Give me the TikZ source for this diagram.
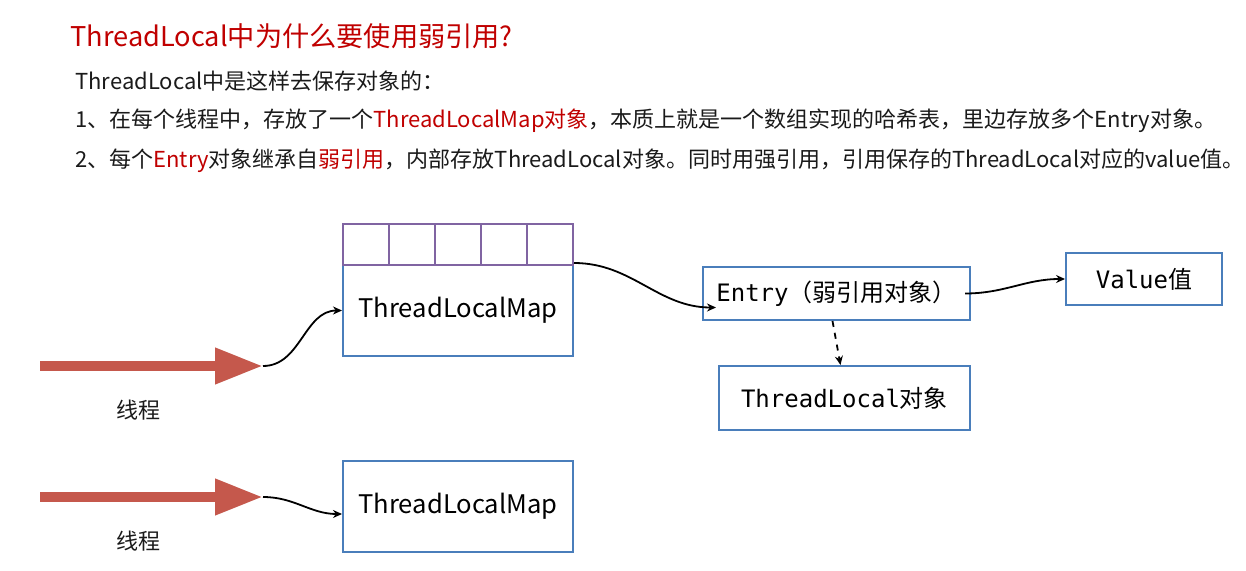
\documentclass[tikz,border=0pt]{standalone}
\usepackage{fontspec}
\setmainfont{Noto Sans CJK SC}
\setmonofont{DejaVu Sans Mono}
\usetikzlibrary{arrows.meta}

\definecolor{titlered}{HTML}{C00000}
\definecolor{textgray}{HTML}{1A1A1A}
\definecolor{boxblue}{HTML}{4A7EBB}
\definecolor{cellpurple}{HTML}{8064A2}
\definecolor{threadred}{HTML}{C5584C}

\tikzset{
    body/.style={anchor=west, inner sep=0pt, text=textgray, font=\fontsize{11}{13}\selectfont},
    mapbox/.style={draw=boxblue, line width=1pt, minimum width=115pt, minimum height=45.5pt,
        font=\fontsize{12.8}{15}\selectfont},
    monobox/.style={draw=boxblue, line width=1pt, inner sep=0pt, font=\fontsize{12}{14}\ttfamily},
    cell/.style={draw=cellpurple, line width=1pt, minimum width=23pt, minimum height=20.5pt, inner sep=0pt},
    thread/.style={draw=threadred, line width=5pt, -{Triangle[length=24pt,width=17pt]}},
    link/.style={line width=0.9pt, -{Stealth[length=4.5pt,width=4pt]}},
}

\begin{document}
\begin{tikzpicture}[x=0.5pt,y=-0.5pt]
    \useasboundingbox (0,0) rectangle (1246,571);

    % Judul dan teks
    \node[anchor=west, inner sep=0pt, text=titlered, font=\fontsize{13.6}{16}\selectfont]
        (title) at (70,36) {ThreadLocal中为什么要使用弱引用?};
    \node[body] (line0) at (75,81) {ThreadLocal中是这样去保存对象的：};
    \node[body] (line1) at (75,121)
        {1、在每个线程中，存放了一个\textcolor{titlered}{ThreadLocalMap对象}，本质上就是一个数组实现的哈希表，里边存放多个Entry对象。};
    \node[body] (line2) at (75,161)
        {2、每个\textcolor{titlered}{Entry}对象继承自\textcolor{titlered}{弱引用}，内部存放ThreadLocal对象。同时用强引用，引用保存的ThreadLocal对应的value值。};

    % Map dan array
    \node[mapbox] (map1) at (458,310.5) {ThreadLocalMap};
    \node[mapbox] (map2) at (458,506) {ThreadLocalMap};
    \foreach \i in {0,...,4}
        \node[cell] (c\i) at (366+46*\i,244.5) {};

    % Entry, value, ThreadLocal
    \node[monobox, minimum width=133.5pt, minimum height=26.5pt] (entry) at (836.5,293.5)
        {Entry\textrm{（弱引用对象）}};
    \node[monobox, minimum width=78pt, minimum height=26pt] (value) at (1144,279)
        {Value\textrm{值}};
    \node[monobox, minimum width=125.5pt, minimum height=32pt] (tlobj) at (844.5,398)
        {ThreadLocal\textrm{对象}};

    % Panah thread
    \coordinate (s1) at (40,366);
    \coordinate (t1) at (263,366);
    \coordinate (s2) at (40,497);
    \coordinate (t2) at (263,497);
    \draw[thread] (s1) -- (t1);
    \draw[thread] (s2) -- (t2);
    \node[text=textgray, font=\fontsize{11}{13}\selectfont] (lbl1) at (138,410) {线程};
    \node[text=textgray, font=\fontsize{11}{13}\selectfont] (lbl2) at (138,541) {线程};

    % Hubungan
    \draw[link] (t1) to[out=0,in=180] (map1.west);
    \draw[link] (t2) to[out=0,in=180] ([yshift=-4pt]map2.west);
    \draw[link] ([yshift=1.5pt]c4.south east) to[out=0,in=180] ([shift={(7pt,-7pt)}]entry.west);
    \draw[link] ([xshift=-3pt]entry.east) to[out=0,in=180] (value.west);
    \draw[link, dashed] ([xshift=-2pt]entry.south) -- ([xshift=-2pt]tlobj.north);
\end{tikzpicture}
\end{document}
